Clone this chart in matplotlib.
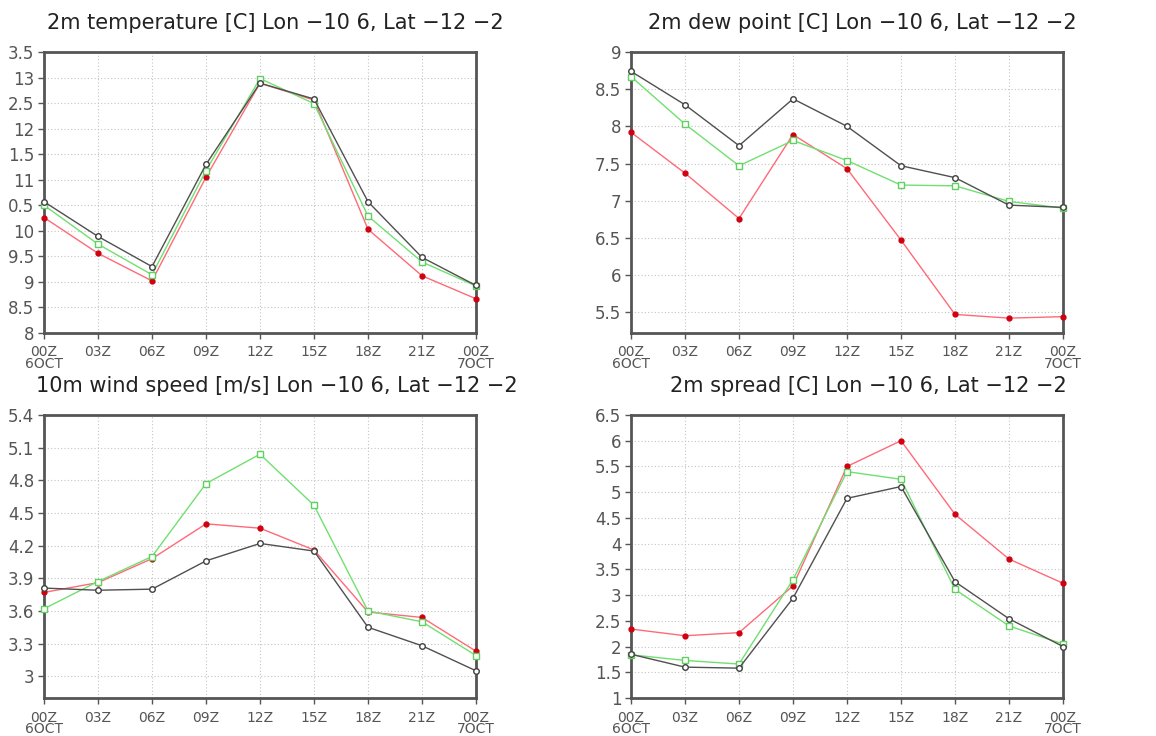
import matplotlib
matplotlib.use("Agg")
import matplotlib.pyplot as plt

times = ["00Z\n6OCT", "03Z", "06Z", "09Z", "12Z", "15Z", "18Z", "21Z", "00Z\n7OCT"]

t2m_black = [10.57, 9.89, 9.30, 11.30, 12.89, 12.58, 10.57, 9.48, 8.93]
t2m_green = [10.50, 9.74, 9.14, 11.18, 12.98, 12.49, 10.29, 9.39, 8.92]
t2m_red = [10.26, 9.56, 9.02, 11.05, 12.89, 12.56, 10.03, 9.12, 8.67]

td_black = [8.74, 8.29, 7.74, 8.37, 8.00, 7.47, 7.31, 6.94, 6.91]
td_green = [8.67, 8.03, 7.47, 7.81, 7.54, 7.21, 7.20, 6.99, 6.90]
td_red = [7.92, 7.37, 6.76, 7.89, 7.43, 6.47, 5.47, 5.42, 5.44]

ws_black = [3.81, 3.79, 3.80, 4.06, 4.22, 4.15, 3.45, 3.28, 3.05]
ws_green = [3.62, 3.87, 4.10, 4.77, 5.04, 4.57, 3.60, 3.50, 3.19]
ws_red = [3.77, 3.86, 4.08, 4.40, 4.36, 4.16, 3.59, 3.54, 3.23]

sp_black = [1.85, 1.60, 1.58, 2.94, 4.88, 5.11, 3.26, 2.54, 2.00]
sp_green = [1.84, 1.73, 1.66, 3.30, 5.40, 5.25, 3.11, 2.40, 2.05]
sp_red = [2.34, 2.21, 2.27, 3.18, 5.50, 6.00, 4.57, 3.70, 3.23]

titles = ["2m temperature [C] Lon \u221210 6, Lat \u221212 \u22122",
          "2m dew point [C] Lon \u221210 6, Lat \u221212 \u22122",
          "10m wind speed [m/s] Lon \u221210 6, Lat \u221212 \u22122",
          "2m spread [C] Lon \u221210 6, Lat \u221212 \u22122"]

t2m_ticks = [8, 8.5, 9, 9.5, 10, 10.5, 11, 11.5, 12, 12.5, 13, 13.5]
t2m_ticklabels = ["8", "8.5", "9", "9.5", "10", "0.5", "11", "1.5", "12", "2.5", "13", "3.5"]
td_ticks = [5.5, 6, 6.5, 7, 7.5, 8, 8.5, 9]
td_ticklabels = ["5.5", "6", "6.5", "7", "7.5", "8", "8.5", "9"]
ws_ticks = [3, 3.3, 3.6, 3.9, 4.2, 4.5, 4.8, 5.1, 5.4]
ws_ticklabels = ["3", "3.3", "3.6", "3.9", "4.2", "4.5", "4.8", "5.1", "5.4"]
sp_ticks = [1, 1.5, 2, 2.5, 3, 3.5, 4, 4.5, 5, 5.5, 6, 6.5]
sp_ticklabels = ["1", "1.5", "2", "2.5", "3", "3.5", "4", "4.5", "5", "5.5", "6", "6.5"]

fig = plt.figure(figsize=(11.56, 7.36), dpi=100)
W, H = 1156, 736

def ax_rect(l, t, r, b):
    return [l / W, 1 - b / H, (r - l) / W, (b - t) / H]

panels = [
    (ax_rect(44, 52, 476, 333), (t2m_black, t2m_green, t2m_red), (8, 13.5), t2m_ticks, t2m_ticklabels, (275, 23)),
    (ax_rect(631, 52, 1063, 333), (td_black, td_green, td_red), (5.22, 9), td_ticks, td_ticklabels, (862, 23)),
    (ax_rect(44, 415, 476, 698), (ws_black, ws_green, ws_red), (2.8, 5.4), ws_ticks, ws_ticklabels, (277, 386)),
    (ax_rect(631, 415, 1063, 698), (sp_black, sp_green, sp_red), (1, 6.5), sp_ticks, sp_ticklabels, (868, 386)),
]

x = list(range(len(times)))
for i, (rect, (b, g, r), ylim, yt, ytl, tpos) in enumerate(panels):
    ax = fig.add_axes(rect)
    ax.plot(x, r, color="#ff6a78", lw=1.0, marker="o", ms=3.5, mfc="#d00010", mec="#d00010", zorder=3, clip_on=False)
    ax.plot(x, g, color="#70e070", lw=1.0, marker="s", ms=4, mfc="white", mec="#60d060", mew=1.0, zorder=4, clip_on=False)
    ax.plot(x, b, color="#505050", lw=1.0, marker="o", ms=4, mfc="white", mec="#404040", mew=1.0, zorder=5, clip_on=False)
    ax.set_xlim(0, len(times) - 1)
    ax.set_ylim(*ylim)
    ax.set_xticks(x)
    ax.set_xticklabels(times, fontsize=10, color="#555555", linespacing=0.75)
    ax.set_yticks(yt)
    ax.set_yticklabels(ytl, fontsize=12, color="#555555")
    ax.grid(True, linestyle=(0, (1, 2)), color="#c4c4c4", lw=0.8)
    for s in ax.spines.values():
        s.set_color("#555555")
        s.set_linewidth(2)
    ax.tick_params(axis="both", length=4, width=1, color="#555555")
    ax.tick_params(axis="x", pad=5)
    ax.tick_params(axis="y", pad=3)
    fig.text(tpos[0] / W, 1 - tpos[1] / H, titles[i], ha="center", va="center", fontsize=15, color="#222222")

fig.savefig("out.png", dpi=100)
